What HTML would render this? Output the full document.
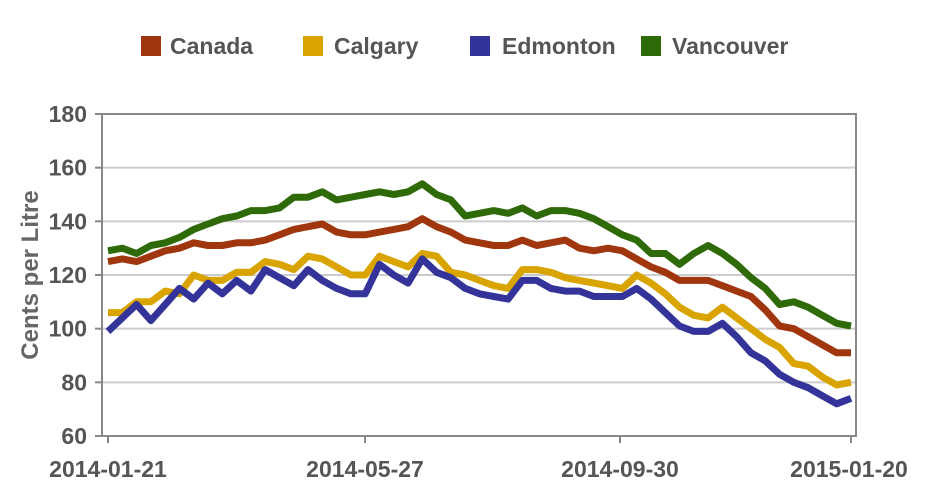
<!DOCTYPE html>
<html><head><meta charset="utf-8"><style>
html,body{margin:0;padding:0;background:#fff;width:926px;height:494px;overflow:hidden}
svg{display:block;font-family:"Liberation Sans",Arial,sans-serif;font-weight:bold}
</style></head><body>
<svg id="c" width="926" height="494" viewBox="0 0 926 494">
<g fill="#555" font-size="23">
<rect x="141" y="36" width="20" height="20" fill="#a0360e"/><text x="170" y="54">Canada</text>
<rect x="303" y="36" width="20" height="20" fill="#d9a400"/><text x="334" y="54">Calgary</text>
<rect x="470" y="36" width="20" height="20" fill="#343399"/><text x="502" y="54">Edmonton</text>
<rect x="641" y="36" width="20" height="20" fill="#2e6a08"/><text x="672" y="54">Vancouver</text>
</g>
<g id="grid" stroke="#ccc" stroke-width="2"></g>
<g id="lines" fill="none" stroke-width="7" stroke-linejoin="round"></g>
<rect x="102" y="114" width="754" height="322" fill="none" stroke="#888" stroke-width="2"/>
<g id="yl" fill="#555" font-size="23" text-anchor="end"></g>
<g fill="#555" font-size="23" text-anchor="middle">
<text x="108" y="477">2014-01-21</text><text x="365" y="477">2014-05-27</text>
<text x="620" y="477">2014-09-30</text><text x="849" y="477">2015-01-20</text>
</g>
<g stroke="#888" stroke-width="2"><line x1="108" y1="436" x2="108" y2="443"/><line x1="365" y1="436" x2="365" y2="443"/><line x1="620" y1="436" x2="620" y2="443"/><line x1="851" y1="436" x2="851" y2="443"/></g>
<text transform="translate(38,275) rotate(-90)" fill="#666" font-size="24" text-anchor="middle">Cents per Litre</text>
</svg>
<script>
var ns="http://www.w3.org/2000/svg";
function Y(v){return 436-(v-60)*322/120}
var g=document.getElementById("grid"),yl=document.getElementById("yl");
for(var v=60;v<=180;v+=20){var y=Y(v);
 if(v>60&&v<180){var l=document.createElementNS(ns,"line");l.setAttribute("x1",102);l.setAttribute("x2",856);l.setAttribute("y1",y);l.setAttribute("y2",y);g.appendChild(l);}
 var t=document.createElementNS(ns,"text");t.setAttribute("x",87);t.setAttribute("y",y+8);t.textContent=v;yl.appendChild(t);
 var tk=document.createElementNS(ns,"line");tk.setAttribute("x1",95);tk.setAttribute("x2",102);tk.setAttribute("y1",y);tk.setAttribute("y2",y);tk.setAttribute("stroke","#888");g.appendChild(tk);}
var S=[
["#2e6a08",[129,130,128,131,132,134,137,139,141,142,144,144,145,149,149,151,148,149,150,151,150,151,154,150,148,142,143,144,143,145,142,144,144,143,141,138,135,133,128,128,124,128,131,128,124,119,115,109,110,108,105,102,101]],
["#a0360e",[125,126,125,127,129,130,132,131,131,132,132,133,135,137,138,139,136,135,135,136,137,138,141,138,136,133,132,131,131,133,131,132,133,130,129,130,129,126,123,121,118,118,118,116,114,112,107,101,100,97,94,91,91]],
["#d9a400",[106,106,110,110,114,113,120,118,118,121,121,125,124,122,127,126,123,120,120,127,125,123,128,127,121,120,118,116,115,122,122,121,119,118,117,116,115,120,117,113,108,105,104,108,104,100,96,93,87,86,82,79,80]],
["#343399",[99,104,109,103,109,115,111,117,113,118,114,122,119,116,122,118,115,113,113,124,120,117,126,121,119,115,113,112,111,118,118,115,114,114,112,112,112,115,111,106,101,99,99,102,97,91,88,83,80,78,75,72,74]]];
var L=document.getElementById("lines");
S.forEach(function(s){var p=s[1].map(function(v,i){return (108+i*743/52).toFixed(1)+","+Y(v).toFixed(1)}).join(" ");
 var pl=document.createElementNS(ns,"polyline");pl.setAttribute("points",p);pl.setAttribute("stroke",s[0]);L.appendChild(pl);});
</script>
</body></html>
